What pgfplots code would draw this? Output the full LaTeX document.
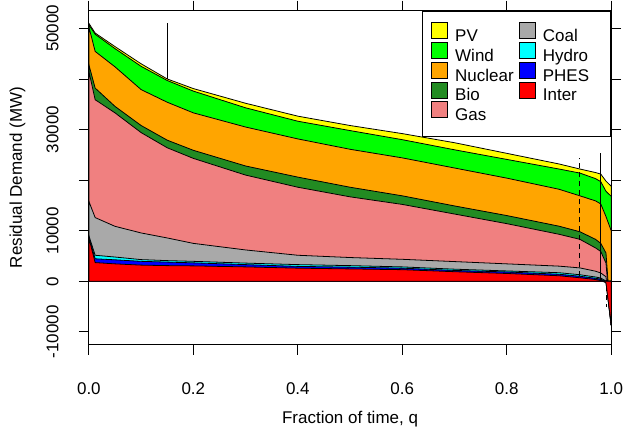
\documentclass[border=0pt]{standalone}
\usepackage{fontspec}
\setmainfont{Liberation Sans}
\usepackage{pgfplots}
\usepackage{pgfplotstable}
\pgfplotsset{compat=1.18}
\definecolor{cpv}{HTML}{FFFF00}
\definecolor{cwind}{HTML}{00FF00}
\definecolor{cnuc}{HTML}{FFA500}
\definecolor{cbio}{HTML}{228B22}
\definecolor{cgas}{HTML}{F08080}
\definecolor{ccoal}{HTML}{A9A9A9}
\definecolor{chydro}{HTML}{00FFFF}
\definecolor{cphes}{HTML}{0000FF}
\definecolor{cinter}{HTML}{FF0000}

% cumulative stack tops (MW)
\pgfplotstableread{
q     inter phes  hydro coal  gas   bio   nuc   wind  pv
0     8600  8800  9000  15800 41500 42800 50300 50700 51000
0.012 3700  4450  5150  12600 35900 38200 45450 48840 49080
0.05  3450  4250  4800  10870 33300 34580 42400 46000 46400
0.1   3200  3950  4290  9560  29400 30800 37900 42500 43000
0.15  3100  3800  4090  8570  26400 27900 35400 39700 40000
0.2   3050  3650  3950  7500  24300 25900 33300 37600 38100
0.3   2850  3300  3600  6200  21000 22800 30500 34300 35200
0.4   2600  2950  3300  5150  18600 20600 28150 31650 32650
0.5   2450  2800  3100  4700  16700 18600 26100 29800 30800
0.6   2300  2600  2850  4350  15200 16900 24400 28000 29200
0.7   1900  2150  2400  3900  13300 14900 22400 26000 27400
0.8   1550  1850  2050  3450  11400 13000 20400 24100 25300
0.9   1100  1400  1700  3000  9300  10900 18200 22200 23200
0.94  700   1000  1300  2650  8300  9800  16900 21400 22200
0.97  350   600   850   2000  6600  8300  15900 20300 21500
0.98  200   450   650   1650  5900  7500  15300 19700 21200
0.99  -300  -150  50    900   3600  5600  12800 17800 19800
1.0   -8700 -8700 -8700 -8700 -8700 -8700 10000 16800 18800
}\stack

\newcommand{\lent}[1]{\makebox[57pt][l]{#1}}

\begin{document}
\fontsize{17}{20}\selectfont
\begin{tikzpicture}
\begin{axis}[
  scale only axis, width=523pt, height=334.3pt,
  xmin=0, xmax=1, ymin=-12500, ymax=53500,
  scaled y ticks=false,
  axis on top,
  axis line style={line width=0.8pt, black},
  tick align=outside, major tick length=10pt,
  tick style={line width=0.8pt, black},
  xtick={0,0.2,0.4,0.6,0.8,1},
  xticklabels={0.0,0.2,0.4,0.6,0.8,1.0},
  ytick={-10000,0,10000,20000,30000,40000,50000},
  yticklabels={-10000,0,10000,{},30000,{},50000},
  /pgf/number format/assume math mode=true,
  xticklabel style={inner sep=1pt, anchor=center, yshift=-34pt},
  yticklabel style={inner sep=1pt, xshift=-26.5pt, rotate=90, anchor=center},
  xlabel={Fraction of time, q},
  ylabel={Residual Demand (MW)},
  every axis x label/.style={at={(axis description cs:0.5,0)}, yshift=-75pt, anchor=center},
  every axis y label/.style={at={(axis description cs:0,0.5)}, xshift=-71.5pt, rotate=90, anchor=center},
  legend columns=2,
  legend cell align=left,
  legend style={at={(1,1)}, anchor=north east, draw=black, line width=0.8pt,
    inner xsep=9pt, inner ysep=11.4pt, row sep=-3.9pt, column sep=5pt,
    cells={inner sep=1pt, text height=12pt, text depth=3pt},
    font=\fontsize{17}{20}\selectfont},
  legend image code/.code={\fill[#1] (0pt,-2pt) rectangle (16pt,14pt);},
]
\addplot[draw=black, line width=0.8pt, fill=cpv, forget plot] table[x=q,y=pv]{\stack} \closedcycle;
\addplot[draw=black, line width=0.8pt, fill=cwind, forget plot] table[x=q,y=wind]{\stack} \closedcycle;
\addplot[draw=black, line width=0.8pt, fill=cnuc, forget plot] table[x=q,y=nuc]{\stack} \closedcycle;
\addplot[draw=black, line width=0.8pt, fill=cbio, forget plot] table[x=q,y=bio]{\stack} \closedcycle;
\addplot[draw=black, line width=0.8pt, fill=cgas, forget plot] table[x=q,y=gas]{\stack} \closedcycle;
\addplot[draw=black, line width=0.8pt, fill=ccoal, forget plot] table[x=q,y=coal]{\stack} \closedcycle;
\addplot[draw=black, line width=0.8pt, fill=chydro, forget plot] table[x=q,y=hydro]{\stack} \closedcycle;
\addplot[draw=black, line width=0.8pt, fill=cphes, forget plot] table[x=q,y=phes]{\stack} \closedcycle;
\addplot[draw=black, line width=0.8pt, fill=cinter, forget plot] table[x=q,y=inter]{\stack} \closedcycle;

\addplot[black, line width=0.8pt, forget plot] coordinates {(0.15,40000) (0.15,51000)};
\addplot[black, line width=0.8pt, dash pattern=on 5pt off 4pt, forget plot] coordinates {(0.94,1000) (0.94,24400)};
\addplot[black, line width=0.8pt, forget plot] coordinates {(0.98,0) (0.98,25400)};
\addplot[black, line width=0.8pt, dash pattern=on 5pt off 4pt, forget plot] coordinates {(0.99,-1000) (0.99,-5000)};

\addlegendimage{fill=cpv}\addlegendentry{\lent{PV}}
\addlegendimage{fill=ccoal}\addlegendentry{\lent{Coal}}
\addlegendimage{fill=cwind}\addlegendentry{\lent{Wind}}
\addlegendimage{fill=chydro}\addlegendentry{\lent{Hydro}}
\addlegendimage{fill=cnuc}\addlegendentry{\lent{Nuclear}}
\addlegendimage{fill=cphes}\addlegendentry{\lent{PHES}}
\addlegendimage{fill=cbio}\addlegendentry{\lent{Bio}}
\addlegendimage{fill=cinter}\addlegendentry{\lent{Inter}}
\addlegendimage{fill=cgas}\addlegendentry{\lent{Gas}}
\end{axis}
\path (current axis.north east) ++(12pt,10.7pt);
\path (current axis.south west) ++(-89pt,-89pt);
\end{tikzpicture}
\end{document}
